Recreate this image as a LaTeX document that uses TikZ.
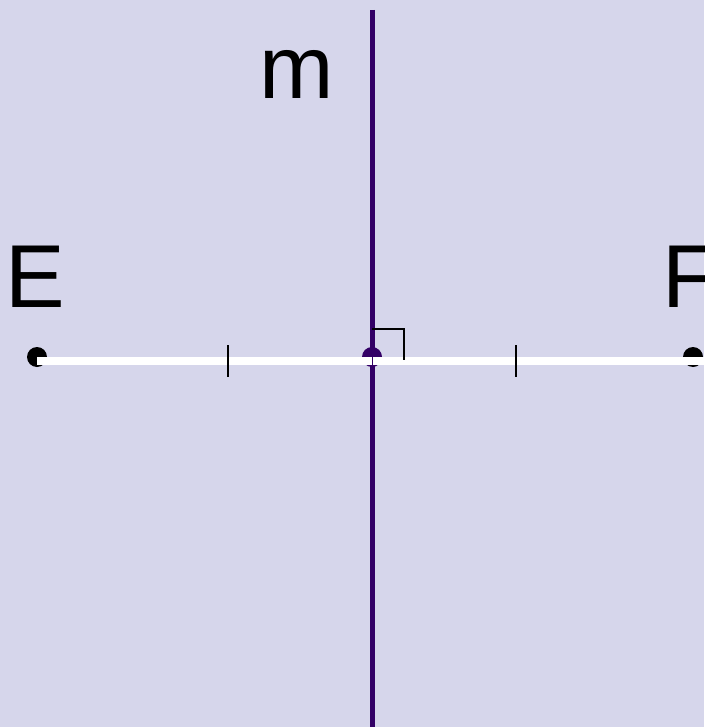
\documentclass[tikz,border=0pt]{standalone}
\usepackage{fontspec}
\setmainfont{Liberation Sans}
\usepackage{xcolor}
\usepackage{tikz}
\usetikzlibrary{calc}

\definecolor{bgcol}{RGB}{214,214,235}
\definecolor{mcol}{RGB}{51,0,102}

\begin{document}
\begin{tikzpicture}[x=0.75pt,y=-0.75pt,
	lbl/.style={inner sep=0pt,anchor=base,font=\fontsize{67}{80}\selectfont},
	segline/.style={white,line width=6pt},
	tickline/.style={black,line width=1.5pt}]

		% Frame and background
		\useasboundingbox (0,0) rectangle (704,727);
		\clip (0,0) rectangle (704,727);
		\fill[bgcol] (0,0) rectangle (704,727);

		% Explicit coordinates (pixel grid)
		\coordinate (E)  at (37,357);
		\coordinate (F)  at (693,357);
		\coordinate (M)  at (372,357);
		\coordinate (Mtop) at (372,10);
		\coordinate (Mbot) at (372,727);
		\coordinate (R)  at (704,357);

		% Perpendicular bisector m
		\draw[mcol, line width=3.75pt] (Mtop)--(Mbot);

		% Draw the points
		\fill (E) circle (7.5pt);
		\fill (F) circle (7.5pt);
		\fill[mcol] (M) circle (7.5pt);

		% Segment EF
		\draw[segline] ($(E)+(0,4)$)--($(R)+(0,4)$);
		\draw[mcol, line width=0.75pt] ($(M)+(0,0)$)--($(M)+(0,8)$);

		% Equal marks
		\draw[tickline] (228,345)--(228,377);
		\draw[tickline] (516,345)--(516,377);

		% Right angle mark
		\draw[black, line width=1.5pt] ($(M)+(0,-28)$)--($(M)+(32,-28)$)--($(M)+(32,3)$);

		% Labels
		\node[lbl] (labE) at (35,307) {E};
		\node[lbl] (labF) at (690,307) {F};
		\node[lbl] (labm) at (297,99) {m};

	\end{tikzpicture}
\end{document}
